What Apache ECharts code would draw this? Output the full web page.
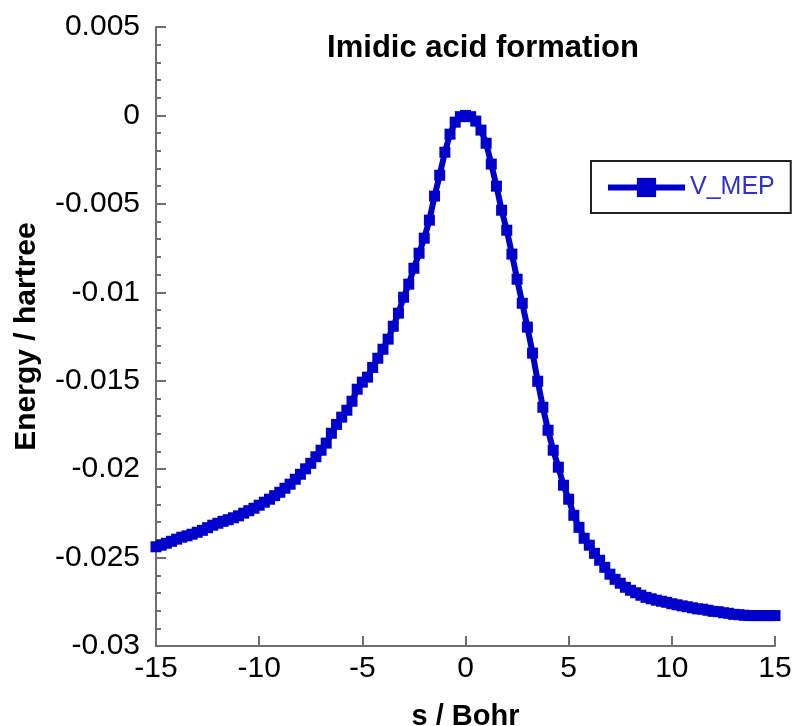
<!DOCTYPE html>
<html>
<head>
<meta charset="utf-8">
<script src="https://cdn.jsdelivr.net/npm/echarts@6/dist/echarts.min.js"></script>
<style>
  html, body { margin: 0; padding: 0; background: #fff; }
  #chart { width: 793px; height: 726px; }
</style>
</head>
<body>
<div id="chart"></div>
<script>
// reaction coordinate s (Bohr), step 0.25
var sLeft = [-15, -14.75, -14.5, -14.25, -14, -13.75, -13.5, -13.25, -13, -12.75,
  -12.5, -12.25, -12, -11.75, -11.5, -11.25, -11, -10.75, -10.5, -10.25,
  -10, -9.75, -9.5, -9.25, -9, -8.75, -8.5, -8.25, -8, -7.75,
  -7.5, -7.25, -7, -6.75, -6.5, -6.25, -6, -5.75, -5.5, -5.25,
  -5, -4.75, -4.5, -4.25, -4, -3.75, -3.5, -3.25, -3, -2.75,
  -2.5, -2.25, -2, -1.75, -1.5, -1.25, -1, -0.75, -0.5, -0.25];
var eLeft = [-0.02439, -0.02430, -0.02419, -0.02408, -0.02396, -0.02385, -0.02377, -0.02368, -0.02357, -0.02346,
  -0.02331, -0.02317, -0.02306, -0.02295, -0.02286, -0.02275, -0.02264, -0.02249, -0.02235, -0.02221,
  -0.02204, -0.02187, -0.02170, -0.02150, -0.02131, -0.02108, -0.02085, -0.02057, -0.02029, -0.01998,
  -0.01967, -0.01930, -0.01893, -0.01853, -0.01797, -0.01747, -0.01706, -0.01667, -0.01616, -0.01548,
  -0.01508, -0.01480, -0.01425, -0.01373, -0.01322, -0.01265, -0.01192, -0.01118, -0.01028, -0.00954,
  -0.00864, -0.00779, -0.00694, -0.00592, -0.00456, -0.00338, -0.00208, -0.00106, -0.00038, -0.00007];
var sRight = [0, 0.25, 0.5, 0.75, 1, 1.25, 1.5, 1.75, 2, 2.25,
  2.5, 2.75, 3, 3.25, 3.5, 3.75, 4, 4.25, 4.5, 4.75,
  5, 5.25, 5.5, 5.75, 6, 6.25, 6.5, 6.75, 7, 7.25,
  7.5, 7.75, 8, 8.25, 8.5, 8.75, 9, 9.25, 9.5, 9.75,
  10, 10.25, 10.5, 10.75, 11, 11.25, 11.5, 11.75, 12, 12.25,
  12.5, 12.75, 13, 13.25, 13.5, 13.75, 14, 14.25, 14.5, 14.75, 15];
var eRight = [0, -0.00007, -0.00032, -0.00083, -0.00157, -0.00275, -0.00400, -0.00536, -0.00649, -0.00784,
  -0.00926, -0.01062, -0.01197, -0.01344, -0.01503, -0.01650, -0.01780, -0.01893, -0.01989, -0.02091,
  -0.02170, -0.02261, -0.02329, -0.02391, -0.02430, -0.02476, -0.02515, -0.02555, -0.02594, -0.02623,
  -0.02645, -0.02668, -0.02685, -0.02699, -0.02713, -0.02725, -0.02733, -0.02741, -0.02747, -0.02753,
  -0.02761, -0.02767, -0.02773, -0.02778, -0.02784, -0.02790, -0.02792, -0.02798, -0.02804, -0.02806,
  -0.02812, -0.02815, -0.02821, -0.02823, -0.02826, -0.02828, -0.02828, -0.02828, -0.02828, -0.02828, -0.02828];

var seriesName = 'V_MEP';
var titleText = 'Imidic acid formation';

var data = [];
sLeft.forEach(function (s, i) { data.push([s, eLeft[i]]); });
sRight.forEach(function (s, i) { data.push([s, eRight[i]]); });

var font = 'Liberation Sans, Arial, Helvetica, sans-serif';
var axisGrey = '#6e6e6e';

var myChart = echarts.init(document.getElementById('chart'), null, { renderer: 'canvas' });

var option = {
  animation: false,
  backgroundColor: '#fff',
  title: {
    text: titleText,
    left: 478,
    top: 28,
    textAlign: 'center',
    textStyle: { fontFamily: font, fontSize: 31, fontWeight: 'bold', color: '#000' }
  },
  legend: {
    data: [seriesName],
    left: 591,
    top: 161,
    orient: 'vertical',
    itemWidth: 77,
    itemHeight: 24,
    padding: [14, 16, 13, 14],
    borderColor: '#222',
    borderWidth: 2,
    lineStyle: { width: 6 },
    textStyle: { fontFamily: font, fontSize: 25, color: '#2f2fcc' }
  },
  grid: { left: 156, right: 18, top: 27, bottom: 80, containLabel: false, outerBoundsMode: 'none' },
  xAxis: {
    type: 'value',
    min: -15,
    max: 15,
    interval: 5,
    name: 's / Bohr',
    nameLocation: 'middle',
    nameGap: 56,
    nameTextStyle: { fontFamily: font, fontSize: 29, fontWeight: 'bold', color: '#000' },
    axisLine: { onZero: false, lineStyle: { color: axisGrey, width: 2 } },
    axisTick: { inside: true, length: 10, lineStyle: { color: axisGrey, width: 2 } },
    axisLabel: { fontFamily: font, fontSize: 30, color: '#000', margin: 8 },
    splitLine: { show: false }
  },
  yAxis: {
    type: 'value',
    min: -0.03,
    max: 0.005,
    interval: 0.005,
    name: 'Energy / hartree',
    nameLocation: 'middle',
    nameRotate: 90,
    nameGap: 114,
    nameTextStyle: { fontFamily: font, fontSize: 30, fontWeight: 'bold', color: '#000' },
    axisLine: { show: true, onZero: false, lineStyle: { color: axisGrey, width: 2 } },
    axisTick: { show: true, inside: true, length: 10, lineStyle: { color: axisGrey, width: 2 } },
    minorTick: { show: true, splitNumber: 5, length: 5, lineStyle: { color: axisGrey, width: 2 } },
    axisLabel: {
      fontFamily: font, fontSize: 30, color: '#000', margin: 16,
      formatter: function (v) { return String(parseFloat(v.toFixed(3))); }
    },
    splitLine: { show: false }
  },
  series: [{
    name: seriesName,
    type: 'line',
    data: data,
    symbol: 'rect',
    symbolSize: 11,
    showSymbol: true,
    color: '#0000cc',
    lineStyle: { width: 6, color: '#0000cc' },
    itemStyle: { color: '#0000cc' }
  }]
};

myChart.setOption(option);
</script>
</body>
</html>
